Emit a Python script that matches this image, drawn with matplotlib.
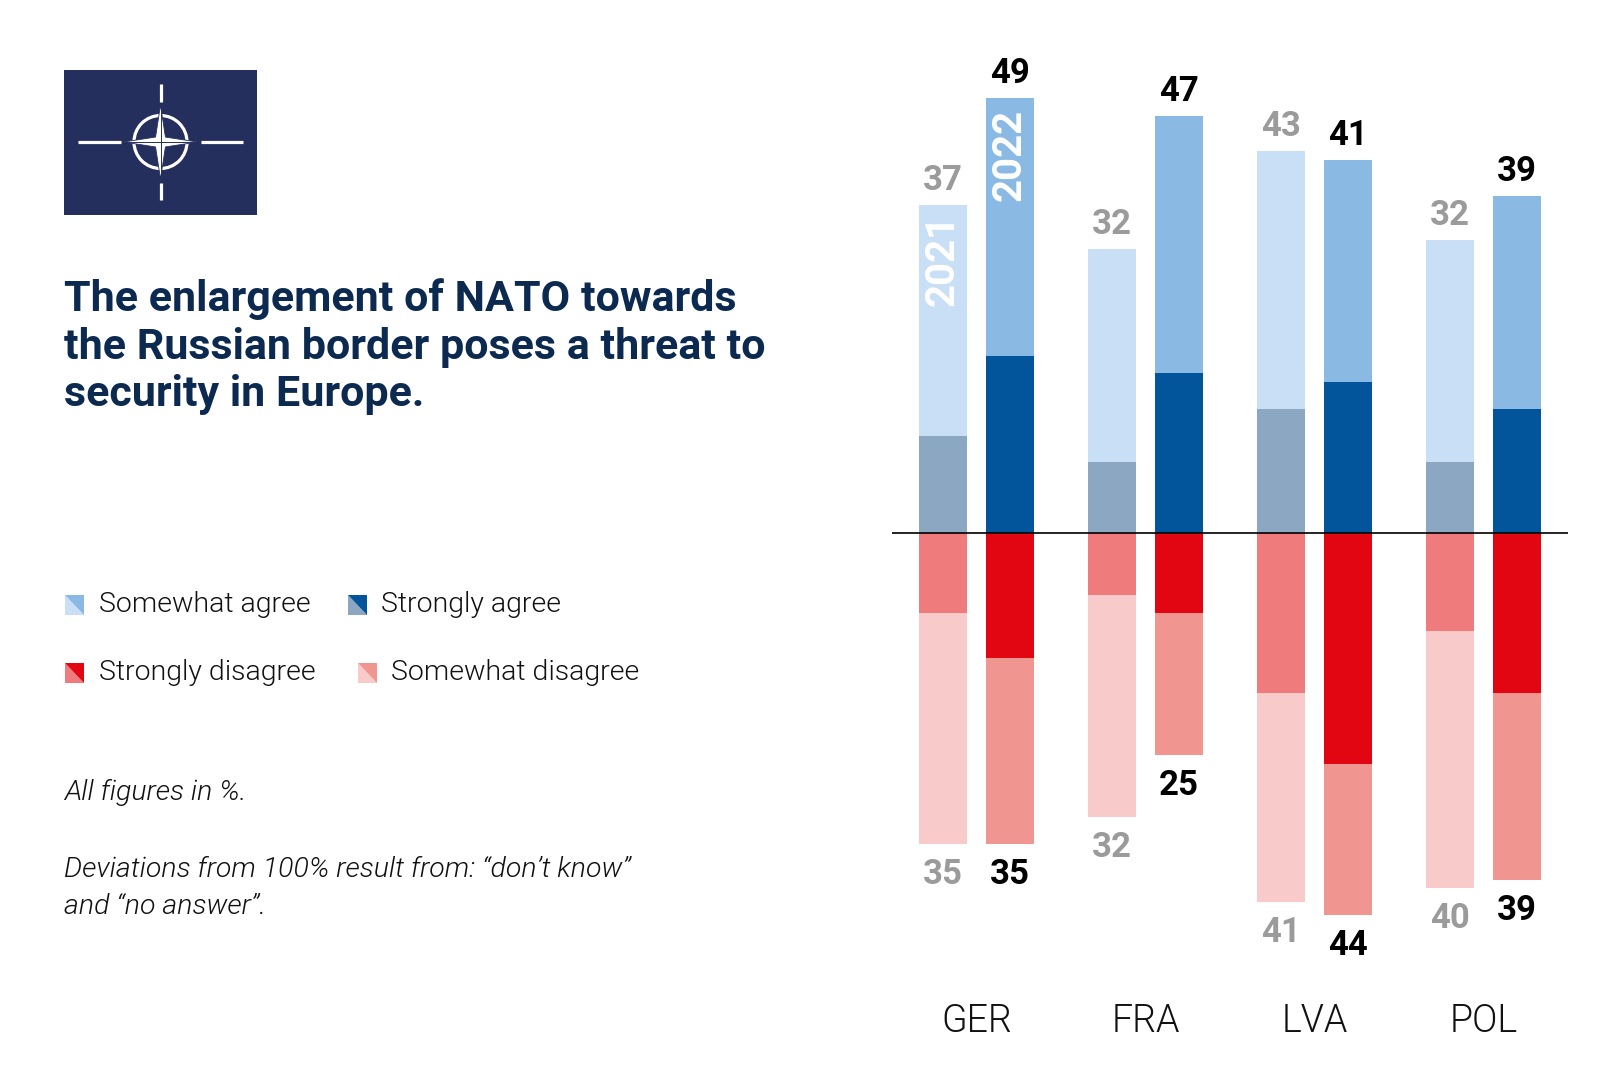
import matplotlib
matplotlib.use("Agg")
import matplotlib.pyplot as plt
from matplotlib.patches import Rectangle, Polygon, Circle
import numpy as np

# ---------------- data ----------------
countries = ["GER", "FRA", "LVA", "POL"]
years = ["2021", "2022"]

strongly_agree_2021 = [11, 8, 14, 8]
somewhat_agree_2021 = [26, 24, 29, 25]
strongly_agree_2022 = [20, 18, 17, 14]
somewhat_agree_2022 = [29, 29, 25, 24]

strongly_disagree_2021 = [9, 7, 18, 11]
somewhat_disagree_2021 = [26, 25, 23.5, 29]
strongly_disagree_2022 = [14, 9, 26, 18]
somewhat_disagree_2022 = [21, 16, 17, 21]

agree_label_2021 = [37, 32, 43, 32]
agree_label_2022 = [49, 47, 41, 39]
disagree_label_2021 = [35, 32, 41, 40]
disagree_label_2022 = [35, 25, 44, 39]

legend_labels = ["Somewhat agree", "Strongly agree", "Strongly disagree", "Somewhat disagree"]

title_lines = ["The enlargement of NATO towards",
               "the Russian border poses a threat to",
               "security in Europe."]
note1 = "All figures in %."
note2 = ["Deviations from 100% result from: \u201cdon\u2019t know\u201d",
         "and \u201cno answer\u201d."]

# ---------------- colours ----------------
C_SA21, C_SA22 = "#c8dff5", "#8ab9e3"     # somewhat agree
C_STA21, C_STA22 = "#8ba7c2", "#02559a"   # strongly agree
C_STD21, C_STD22 = "#ef7b7d", "#e20613"   # strongly disagree
C_SD21, C_SD22 = "#f8cac9", "#f19590"     # somewhat disagree
GRAY = "#9b9b9b"
NAVY = "#0c2a50"
FLAG = "#252f5e"
TXT = "#111111"

plt.rcParams["font.family"] = ["Roboto", "DejaVu Sans"]

W, H = 1600, 1084
fig = plt.figure(figsize=(W / 100, H / 100), dpi=100)
fig.patch.set_facecolor("white")

# overlay in pixel coordinates
ov = fig.add_axes([0, 0, 1, 1])
ov.set_xlim(0, W)
ov.set_ylim(H, 0)
ov.axis("off")
ov.patch.set_alpha(0)

# ---- NATO flag ----
ov.add_patch(Rectangle((64, 70), 193, 145, facecolor=FLAG, edgecolor="none"))
cx, cy = 160.5, 142
lw = 2.3
ov.plot([78, 121], [cy, cy], color="white", lw=lw, solid_capstyle="butt")
ov.plot([201, 243], [cy, cy], color="white", lw=lw, solid_capstyle="butt")
ov.plot([cx, cx], [84, 102], color="white", lw=lw, solid_capstyle="butt")
ov.plot([cx, cx], [183, 200], color="white", lw=lw, solid_capstyle="butt")
ov.add_patch(Circle((cx, cy), 26.5, facecolor="none", edgecolor="white", lw=lw))
R, r = 37, 7
pts = []
for k in range(8):
    ang = np.deg2rad(90 - 45 * k)
    rad = R if k % 2 == 0 else r
    pts.append((cx + rad * np.cos(ang), cy - rad * np.sin(ang)))
ov.add_patch(Polygon(pts, closed=True, facecolor="white", edgecolor=FLAG, lw=0.6))
for k in range(0, 8, 2):
    ang = np.deg2rad(90 - 45 * k)
    ov.plot([cx, cx + R * np.cos(ang)], [cy, cy - R * np.sin(ang)], color=FLAG, lw=0.7)

# ---- title ----
for i, line in enumerate(title_lines):
    ov.text(64, 311 + i * 47.5, line, fontsize=31, fontweight="bold", color=NAVY,
            ha="left", va="baseline")

# ---- legend ----
def icon(x, y, c_low, c_high, s=19.5):
    ov.add_patch(Polygon([(x, y), (x, y + s), (x + s, y + s)], closed=True,
                         facecolor=c_low, edgecolor="none"))
    ov.add_patch(Polygon([(x, y), (x + s, y), (x + s, y + s)], closed=True,
                         facecolor=c_high, edgecolor="none"))

leg_items = [
    (64.5, 605, C_SA21, C_SA22, 99, legend_labels[0]),
    (347.5, 605, C_STA21, C_STA22, 381, legend_labels[1]),
    (64.5, 673, C_STD21, C_STD22, 99, legend_labels[2]),
    (357.5, 673, C_SD21, C_SD22, 391, legend_labels[3]),
]
for ix, iy, cl, ch, tx, lab in leg_items:
    icon(ix, iy - 9.75, cl, ch)
    ov.text(tx, iy, lab, fontsize=20.5, fontweight=300, color=TXT,
            ha="left", va="center")

# ---- notes ----
ov.text(64, 793, note1, fontsize=20.5, fontstyle="italic", fontweight=300,
        color=TXT, ha="left", va="center")
for i, line in enumerate(note2):
    ov.text(64, 869.5 + i * 37.5, line, fontsize=20.5, fontstyle="italic",
            fontweight=300, color=TXT, ha="left", va="center")

# ---------------- chart ----------------
px_per_unit = 8.88
axis_y = 533.3
x_left, x_right = 892, 1568
y_top, y_bot = 20, 1060
ax = fig.add_axes([x_left / W, (H - y_bot) / H, (x_right - x_left) / W, (y_bot - y_top) / H])
ax.patch.set_alpha(0)
ax.set_ylim(-(y_bot - axis_y) / px_per_unit, (axis_y - y_top) / px_per_unit)
gsp = 169.0
gx0 = 976.5
ax.set_xlim((x_left - gx0) / gsp, (x_right - gx0) / gsp)
ax.axis("off")

x = np.arange(len(countries))
bw = 48 / gsp
off = 33.5 / gsp
x21, x22 = x - off, x + off

sa21 = np.array(strongly_agree_2021); wa21 = np.array(somewhat_agree_2021)
sa22 = np.array(strongly_agree_2022); wa22 = np.array(somewhat_agree_2022)
sd21 = np.array(strongly_disagree_2021); wd21 = np.array(somewhat_disagree_2021)
sd22 = np.array(strongly_disagree_2022); wd22 = np.array(somewhat_disagree_2022)

ax.bar(x21, sa21, bw, color=C_STA21, lw=0)
ax.bar(x21, wa21, bw, bottom=sa21, color=C_SA21, lw=0)
ax.bar(x22, sa22, bw, color=C_STA22, lw=0)
ax.bar(x22, wa22, bw, bottom=sa22, color=C_SA22, lw=0)
ax.bar(x21, -sd21, bw, color=C_STD21, lw=0)
ax.bar(x21, -wd21, bw, bottom=-sd21, color=C_SD21, lw=0)
ax.bar(x22, -sd22, bw, color=C_STD22, lw=0)
ax.bar(x22, -wd22, bw, bottom=-sd22, color=C_SD22, lw=0)

ax.axhline(0, color="black", lw=1.2)

pt = 72 / 100  # points per pixel
for i in range(len(countries)):
    ax.annotate(str(agree_label_2021[i]), (x21[i], sa21[i] + wa21[i]),
                xytext=(0, 15 * pt), textcoords="offset points", ha="center",
                va="baseline", fontsize=25, fontweight="semibold", color=GRAY)
    ax.annotate(str(agree_label_2022[i]), (x22[i], sa22[i] + wa22[i]),
                xytext=(0, 15 * pt), textcoords="offset points", ha="center",
                va="baseline", fontsize=25, fontweight="bold", color="black")
    ax.annotate(str(disagree_label_2021[i]), (x21[i], -(sd21[i] + wd21[i])),
                xytext=(0, -14 * pt), textcoords="offset points", ha="center",
                va="top", fontsize=25, fontweight="semibold", color=GRAY)
    ax.annotate(str(disagree_label_2022[i]), (x22[i], -(sd22[i] + wd22[i])),
                xytext=(0, -14 * pt), textcoords="offset points", ha="center",
                va="top", fontsize=25, fontweight="bold", color="black")
    ax.text(x[i], -(1021 - axis_y) / px_per_unit, countries[i], ha="center",
            va="center", fontsize=27, fontweight=300, color=TXT)

# year labels inside the first group
ax.annotate(years[0], (x21[0], sa21[0] + wa21[0]), xytext=(0, -9 * pt),
            textcoords="offset points", ha="center", va="top", rotation=90,
            fontsize=29, fontweight="bold", color="white")
ax.annotate(years[1], (x22[0], sa22[0] + wa22[0]), xytext=(0, -11 * pt),
            textcoords="offset points", ha="center", va="top", rotation=90,
            fontsize=29, fontweight="bold", color="white")

fig.savefig("out.png", dpi=100, facecolor="white")
